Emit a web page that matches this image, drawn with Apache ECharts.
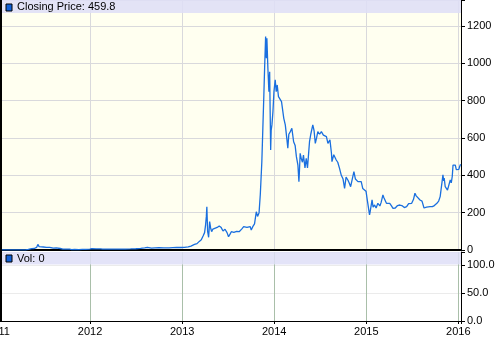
<!DOCTYPE html>
<html><head><meta charset="utf-8">
<script src="https://cdn.jsdelivr.net/npm/echarts@6/dist/echarts.min.js"></script>
<style>html,body{margin:0;padding:0;background:#fff}#c{width:500px;height:342px}</style>
</head><body><div id="c"></div>
<script>
// ---- data ----
const dates = [
'2011-01-12','2011-01-28','2011-02-09','2011-02-25','2011-03-15','2011-04-05','2011-04-20','2011-05-01','2011-05-15','2011-05-25',
'2011-06-03','2011-06-08','2011-06-10','2011-06-13','2011-06-20','2011-06-30','2011-07-12','2011-07-25','2011-08-08','2011-08-20',
'2011-09-05','2011-09-15','2011-09-30','2011-10-12','2011-10-20','2011-11-01','2011-11-18','2011-12-01','2011-12-15','2011-12-31',
'2012-01-08','2012-01-25','2012-02-12','2012-02-20','2012-03-10','2012-03-25','2012-04-15','2012-05-01','2012-05-20','2012-06-10',
'2012-07-01','2012-07-20','2012-08-05','2012-08-16','2012-08-19','2012-09-01','2012-09-15','2012-10-01','2012-10-20','2012-11-10',
'2012-11-25','2012-12-10','2012-12-28',
'2013-01-10','2013-01-25','2013-02-05','2013-02-19','2013-03-01','2013-03-10','2013-03-18','2013-03-25','2013-03-31','2013-04-04',
'2013-04-07','2013-04-09','2013-04-11','2013-04-12','2013-04-14','2013-04-16','2013-04-18','2013-04-20','2013-04-24','2013-04-28',
'2013-05-03','2013-05-10','2013-05-20','2013-05-28','2013-06-05','2013-06-12','2013-06-20','2013-06-28','2013-07-04','2013-07-10',
'2013-07-15','2013-07-25','2013-08-05','2013-08-15','2013-08-25','2013-09-02','2013-09-15','2013-09-28','2013-10-02','2013-10-08',
'2013-10-15','2013-10-22','2013-10-27','2013-11-02','2013-11-07','2013-11-13','2013-11-17','2013-11-21','2013-11-24','2013-11-28',
'2013-12-01','2013-12-03','2013-12-07','2013-12-11','2013-12-14','2013-12-16','2013-12-18','2013-12-20','2013-12-23','2013-12-27',
'2013-12-31',
'2014-01-05','2014-01-09','2014-01-13','2014-01-18','2014-01-25','2014-01-30','2014-02-04','2014-02-08','2014-02-14','2014-02-20',
'2014-02-24','2014-02-28','2014-03-06','2014-03-12','2014-03-19','2014-03-25','2014-03-30','2014-04-05','2014-04-09','2014-04-11',
'2014-04-14','2014-04-18','2014-04-23','2014-04-27','2014-05-03','2014-05-08','2014-05-13','2014-05-18','2014-05-21','2014-05-26',
'2014-06-03','2014-06-08','2014-06-13','2014-06-18','2014-06-23','2014-06-30','2014-07-07','2014-07-15','2014-07-22','2014-07-27',
'2014-08-02','2014-08-10','2014-08-16','2014-08-18','2014-08-25','2014-09-04','2014-09-10','2014-09-17','2014-09-24','2014-10-01',
'2014-10-07','2014-10-13','2014-10-20','2014-10-25','2014-10-31','2014-11-06','2014-11-13','2014-11-19','2014-11-29','2014-12-06',
'2014-12-12','2014-12-18','2014-12-25','2014-12-31',
'2015-01-05','2015-01-10','2015-01-14','2015-01-17','2015-01-20','2015-01-24','2015-01-28','2015-02-03','2015-02-09','2015-02-16',
'2015-02-24','2015-03-01','2015-03-08','2015-03-12','2015-03-17','2015-03-22','2015-03-28','2015-04-04','2015-04-11','2015-04-17',
'2015-04-26','2015-05-05','2015-05-14','2015-05-22','2015-06-01','2015-06-10','2015-06-18','2015-06-24','2015-06-30','2015-07-07',
'2015-07-13','2015-07-18','2015-07-25','2015-08-02','2015-08-10','2015-08-18','2015-08-22','2015-08-28','2015-09-04','2015-09-11',
'2015-09-20','2015-09-28','2015-10-08','2015-10-15','2015-10-21','2015-10-27','2015-11-01','2015-11-04','2015-11-06','2015-11-10',
'2015-11-14','2015-11-19','2015-11-24','2015-11-30','2015-12-04','2015-12-08','2015-12-11','2015-12-15','2015-12-20','2015-12-24',
'2015-12-27','2015-12-31','2016-01-03','2016-01-06','2016-01-10'
];
const prices = [
0.3,0.4,1.0,0.9,0.85,0.7,1.2,3,7,8,
14,30,22,18,17,16,14,14,10,11,
8,5,5,4.5,2.5,3.3,2.2,3,3.2,4.7,
7,5.8,5.5,4.5,4.9,4.8,4.9,5,5.1,5.6,
6.7,8.8,11,13.5,9,10,11.8,12.4,11.6,10.9,
12.3,13.5,13.4,
14,17,21,30,34,46,55,75,93,135,
180,232,143,100,85,68,110,152,118,98,
112,116,121,129,120,102,111,93,71,85,
98,95,100,98,112,125,121,125,107,125,
140,205,180,200,300,473,652,830,973,1143,
1027,1134,973,848,955,741,536,640,670,741,
848,
911,848,884,821,830,795,804,705,670,598,
545,620,634,652,580,560,500,455,366,420,
518,491,470,509,440,491,440,527,580,620,
670,640,571,600,634,620,634,615,625,607,
571,590,518,473,510,482,470,437,400,380,
330,390,375,360,339,345,420,380,366,375,
366,330,321,315,
268,275,188,210,215,268,230,241,225,250,
236,255,295,280,290,250,245,250,236,223,
225,238,241,238,227,232,248,243,250,270,
304,290,288,268,262,225,223,230,235,232,
232,238,250,262,286,295,402,370,385,339,
332,321,322,375,360,395,455,445,455,430,
420,430,432,446,459.8
];
const volumeLabel = 'Vol: 0'; // no volume data in the reference
const priceTicks = [0,200,400,600,800,1000,1200];
const volTicks = [0,50,100];
const seriesName = 'Closing Price';
const lastPrice = prices[prices.length-1];

function fy(s){const p=s.split('-').map(Number);const t=Date.UTC(p[0],p[1]-1,p[2]);const a=Date.UTC(p[0],0,1),b=Date.UTC(p[0]+1,0,1);return p[0]+(t-a)/(b-a);}
const priceData = dates.map((d,i)=>[fy(d),prices[i]]);

const FONT = 'Liberation Sans';
const XMIN = 2011, XMAX = 2016.029;
const chart = echarts.init(document.getElementById('c'), null, {renderer:'canvas'});
chart.setOption({
  animation:false,
  backgroundColor:'#ffffff',
  grid:[
    {left:-2, right:39, top:0, height:250, show:true, backgroundColor:'#fffff0', borderWidth:0, containLabel:false, outerBoundsMode:'none'},
    {left:-2, right:39, top:252, height:69, show:true, backgroundColor:'#ffffff', borderWidth:0, containLabel:false, outerBoundsMode:'none'}
  ],
  xAxis:[
    {gridIndex:0, type:'value', min:XMIN, max:XMAX, interval:1,
     axisLine:{show:true, onZero:false, lineStyle:{color:'#000', width:2}},
     axisTick:{show:false}, axisLabel:{show:false},
     splitLine:{show:true, lineStyle:{color:'#d9d9dc', width:1}}},
    {gridIndex:1, type:'value', min:XMIN, max:XMAX, interval:1,
     axisLine:{show:true, onZero:false, lineStyle:{color:'#000', width:1}},
     axisTick:{show:true, length:3, lineStyle:{color:'#000'}},
     axisLabel:{show:true, margin:5, color:'#000', fontFamily:FONT, fontSize:11, hideOverlap:false,
       formatter:v=>Math.abs(v-Math.round(v))<1e-6?String(Math.round(v)):''},
     splitLine:{show:true, lineStyle:{color:'#a9bfa9', width:1}}}
  ],
  yAxis:[
    {gridIndex:0, type:'value', position:'right', min:0, max:1339, interval:200,
     axisLine:{show:true, onZero:false, lineStyle:{color:'#000', width:1}},
     axisTick:{show:true, length:4, lineStyle:{color:'#000'}},
     axisLabel:{show:true, margin:6, color:'#000', fontFamily:FONT, fontSize:11,
       formatter:v=>priceTicks.indexOf(v)>=0?String(v):''},
     splitLine:{show:true, lineStyle:{color:'#d9d9dc', width:1}}},
    {gridIndex:1, type:'value', position:'right', min:0, max:123, interval:50,
     axisLine:{show:true, onZero:false, lineStyle:{color:'#000', width:1}},
     axisTick:{show:true, length:4, lineStyle:{color:'#000'}},
     axisLabel:{show:true, margin:6, color:'#000', fontFamily:FONT, fontSize:11,
       formatter:v=>volTicks.indexOf(v)>=0?v.toFixed(1):''},
     splitLine:{show:true, lineStyle:{color:'#ebebeb', width:1}}}
  ],
  series:[
    {name:seriesName, type:'line', xAxisIndex:0, yAxisIndex:0, data:priceData,
     showSymbol:false, symbol:'none', lineStyle:{color:'#1a6fdf', width:1.3}, z:3}
  ],
  graphic:[
    {type:'rect', z:10, shape:{x:2,y:0,width:459,height:13}, style:{fill:'rgba(222,222,247,0.85)'}},
    {type:'rect', z:11, shape:{x:6,y:4,width:6,height:7}, style:{fill:'#1060d8', stroke:'#000', lineWidth:1}},
    {type:'text', z:11, x:17, y:7, style:{text:seriesName+': '+lastPrice, fill:'#000', font:'11px "'+FONT+'"', verticalAlign:'middle'}},
    {type:'rect', z:10, shape:{x:2,y:252,width:459,height:12.5}, style:{fill:'rgba(222,222,247,0.85)'}},
    {type:'rect', z:11, shape:{x:6,y:255,width:6,height:7}, style:{fill:'#1060d8', stroke:'#000', lineWidth:1}},
    {type:'text', z:11, x:17, y:258.5, style:{text:volumeLabel, fill:'#000', font:'11px "'+FONT+'"', verticalAlign:'middle'}},
    {type:'rect', z:12, shape:{x:0,y:0,width:2,height:322}, style:{fill:'#000'}}
  ]
});
</script></body></html>
